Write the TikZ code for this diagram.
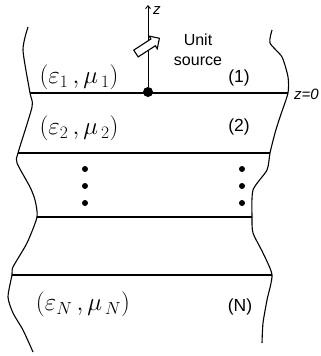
\documentclass[tikz,border=0pt]{standalone}
\usepackage{fix-cm}
\usepackage{fontspec}
\setmainfont{Liberation Sans}
\usetikzlibrary{shapes.arrows,arrows.meta}
\begin{document}
\begin{tikzpicture}[x=1pt,y=-1pt,
  edge/.style={line width=1.1pt,line join=round},
  layer/.style={line width=1.6pt},
  mat/.style={inner sep=0pt,font=\fontsize{25}{28}\selectfont},
  lab/.style={inner sep=0pt,font=\fontsize{15}{17}\selectfont},
  num/.style={inner sep=0pt,font=\fontsize{17.5}{20}\selectfont},
  vdot/.style={circle,fill=black,inner sep=0pt,minimum size=6pt}]
\useasboundingbox (0,0) rectangle (321,356);
% boundaries
\draw[edge] plot[smooth,tension=0.4] coordinates {(28,27) (23,50) (30,93) (32,107) (18,153) (17,163) (30,187) (35,200) (37,217) (27,243) (13,267) (12,275) (8,297) (13,313) (23,330) (33,352)};
\draw[edge] plot[smooth,tension=0.4] coordinates {(272,30) (270,43) (282,57) (288,77) (288,93) (280,117) (275,133) (270,153) (267,170) (253,190) (252,217) (253,233) (263,253) (272,275) (267,300) (263,323) (262,343)};
% interface coordinates
\coordinate (L1) at (30,93);  \coordinate (R1) at (288,93);
\coordinate (L2) at (18,153); \coordinate (R2) at (270,153);
\coordinate (L3) at (37,217); \coordinate (R3) at (252,217);
\coordinate (L4) at (12,275); \coordinate (R4) at (272,275);
\draw[layer] (L1) -- (R1);
\draw[layer] (L2) -- (R2);
\draw[layer] (L3) -- (R3);
\draw[layer] (L4) -- (R4);
% source
\node[circle,fill=black,inner sep=0pt,minimum size=10pt] (src) at (148,92) {};
\coordinate (ztop) at (148,5);
\draw[line width=0.9pt,-{Straight Barb[length=3pt,width=5pt]}] (src) -- (ztop);
\node[single arrow,draw,fill=white,line width=1.1pt,minimum height=28pt,inner sep=0pt,text width=0pt,text height=7pt,text depth=0pt,single arrow head extend=3.5pt,single arrow head indent=0pt,rotate=33] (ua) at (146,47) {};
\node[lab,anchor=west] (zl) at (153,11) {\itshape z};
\node[inner sep=0pt,align=center,font=\fontsize{16}{20}\selectfont] (us) at (198,50) {Unit\\source};
\node[lab,anchor=west] (z0) at (294,94) {\itshape z=0};
% layer labels
\node[mat] (m1) at (79,77) {$(\varepsilon_1\,,\mu_{\,1})$};
\node[mat] (m2) at (79,128) {$(\varepsilon_2\,,\mu_{\,2})$};
\node[mat] (mN) at (83,304) {$(\varepsilon_N\,,\mu_{\,N})$};
\node[num] (n1) at (239,78) {(1)};
\node[num] (n2) at (239,127) {(2)};
\node[num] (nN) at (240,307) {(N)};
% dots
\foreach \y [count=\i] in {169,186,203} {
  \node[vdot] (dl\i) at (85,\y) {};
  \node[vdot] (dr\i) at (242,\y) {};
}
\end{tikzpicture}
\end{document}
